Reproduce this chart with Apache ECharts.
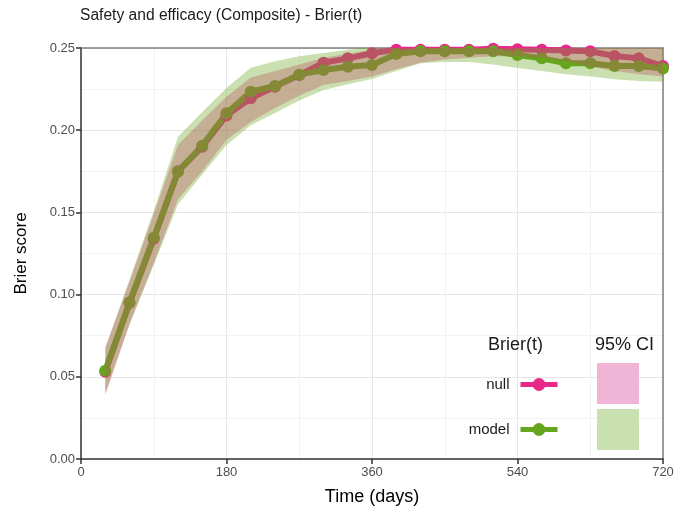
<!DOCTYPE html>
<html><head><meta charset="utf-8">
<script src="https://cdn.jsdelivr.net/npm/echarts@6/dist/echarts.min.js"></script>
<style>html,body{margin:0;padding:0;background:#fff}#c{width:696px;height:515px}</style>
</head><body><div id="c"></div>
<script>
const days = [30,60,90,120,150,180,210,240,270,300,330,360,390,420,450,480,510,540,570,600,630,660,690,720];
const nullBrier  = [0.053,0.095,0.134,0.175,0.190,0.209,0.2194,0.2265,0.2335,0.241,0.2437,0.2468,0.249,0.249,0.249,0.249,0.2495,0.2493,0.249,0.2485,0.248,0.2451,0.2437,0.239];
const modelBrier = [0.0537,0.0951,0.1346,0.1747,0.1906,0.2103,0.2234,0.2269,0.2338,0.2366,0.2386,0.2397,0.2464,0.248,0.248,0.248,0.248,0.2457,0.2437,0.2407,0.2407,0.239,0.239,0.2375];
const nullLo  = [0.039,0.082,0.119,0.158,0.175,0.194,0.205,0.2135,0.221,0.2275,0.230,0.2326,0.237,0.241,0.243,0.244,0.245,0.245,0.244,0.242,0.2386,0.236,0.234,0.2326];
const nullHi  = [0.068,0.108,0.149,0.191,0.206,0.2204,0.232,0.236,0.240,0.244,0.2465,0.249,0.252,0.253,0.254,0.254,0.254,0.254,0.254,0.254,0.254,0.253,0.252,0.251];
const modelLo = [0.040,0.082,0.118,0.155,0.173,0.191,0.203,0.2105,0.218,0.2245,0.228,0.2311,0.236,0.2407,0.2415,0.2415,0.240,0.2378,0.236,0.234,0.2326,0.231,0.230,0.2295];
const modelHi = [0.067,0.109,0.151,0.196,0.211,0.2257,0.238,0.242,0.245,0.247,0.249,0.251,0.255,0.256,0.256,0.256,0.256,0.256,0.255,0.254,0.254,0.253,0.2525,0.252];
const xTicks = [0,180,360,540,720];
const yTicks = [0,0.05,0.10,0.15,0.20,0.25];

const PINK = '#E7298A', GREEN = '#66A61E';
const FONT = 'Liberation Sans, Arial, sans-serif';
const pair = (ys) => days.map((d,i)=>[d, ys[i]]);

function lineSeries(name, vals, color){
  return {name, type:'line', data: pair(vals), symbol:'circle', symbolSize:12,
    itemStyle:{color}, lineStyle:{color, width:6}, z:2, clip:true};
}
function bandSeries(lo, hi, color){
  return {type:'custom', data: days.map((d,i)=>[d, lo[i], hi[i]]), encode:{x:0, y:[1,2]},
    z:3, silent:true, clip:true,
    renderItem:(params, api) => {
      if (params.dataIndex !== 0) return null;
      const pts = [];
      for (let i = 0; i < days.length; i++) pts.push(api.coord([days[i], hi[i]]));
      for (let i = days.length - 1; i >= 0; i--) pts.push(api.coord([days[i], lo[i]]));
      const cs = params.coordSys;
      return {type:'polygon', shape:{points:pts}, style:{fill:color, opacity:0.35},
        clipPath:{type:'rect', shape:{x:cs.x, y:cs.y, width:cs.width, height:cs.height}}};
    }};
}

const chart = echarts.init(document.getElementById('c'));
const axisLabelStyle = {color:'#4D4D4D', fontSize:13, fontFamily:FONT};
const legendCommon = {right:136, padding:0, itemWidth:37, itemHeight:16, align:'right', selectedMode:false,
  lineStyle:{width:5}, textStyle:{fontSize:15, color:'#1a1a1a', fontFamily:FONT, padding:[0,6,0,0]}};
chart.setOption({
  animation:false,
  title:{text:'Safety and efficacy (Composite) - Brier(t)', left:75, top:3,
    textStyle:{fontSize:15.6, fontWeight:'normal', color:'#1a1a1a', fontFamily:FONT}},
  grid:{left:81, right:33, top:48, bottom:56},
  xAxis:[{type:'value', min:0, max:720, interval:180, name:'Time (days)', nameLocation:'middle', nameGap:29,
    nameTextStyle:{fontSize:18, color:'#000', fontFamily:FONT},
    axisLine:{show:true, onZero:false, lineStyle:{color:'#333', width:1.5}},
    axisTick:{show:true, length:5, lineStyle:{color:'#333', width:1.5}},
    axisLabel:Object.assign({margin:7, formatter:(v)=>xTicks.includes(v)?String(v):''}, axisLabelStyle),
    splitLine:{show:true, lineStyle:{color:'#E6E6E6', width:1}},
    minorTick:{show:false, splitNumber:2},
    minorSplitLine:{show:true, lineStyle:{color:'#F2F2F2', width:1}}},
    {type:'value', position:'top', min:0, max:720, axisLine:{show:true, onZero:false, lineStyle:{color:'#7f7f7f', width:1.5}},
      axisTick:{show:false}, axisLabel:{show:false}, splitLine:{show:false}}],
  yAxis:[{type:'value', min:0, max:0.25, interval:0.05, name:'Brier score', nameLocation:'middle', nameGap:51,
    nameTextStyle:{fontSize:17, color:'#000', fontFamily:FONT},
    axisLine:{show:true, onZero:false, lineStyle:{color:'#333', width:1.5}},
    axisTick:{show:true, length:5, lineStyle:{color:'#333', width:1.5}},
    axisLabel:Object.assign({margin:6, formatter:(v)=>yTicks.some(t=>Math.abs(t-v)<1e-9)?v.toFixed(2):''}, axisLabelStyle),
    splitLine:{show:true, lineStyle:{color:'#E6E6E6', width:1}},
    minorTick:{show:false, splitNumber:2},
    minorSplitLine:{show:true, lineStyle:{color:'#F2F2F2', width:1}}},
    {type:'value', position:'right', min:0, max:0.25, axisLine:{show:true, onZero:false, lineStyle:{color:'#7f7f7f', width:1.5}},
      axisTick:{show:false}, axisLabel:{show:false}, splitLine:{show:false}}],
  legend:[
    Object.assign({data:['null'], top:377}, legendCommon),
    Object.assign({data:['model'], top:422}, legendCommon)
  ],
  graphic:[
    {type:'text', left:488, top:336, style:{text:'Brier(t)', fontSize:18, fill:'#1a1a1a', fontFamily:FONT}, z:100},
    {type:'text', left:595, top:336, style:{text:'95% CI', fontSize:18, fill:'#1a1a1a', fontFamily:FONT}, z:100},
    {type:'rect', left:597, top:363, shape:{width:42, height:41}, style:{fill:'#EFB4D6'}, z:100},
    {type:'rect', left:597, top:409, shape:{width:42, height:41}, style:{fill:'#C9E0B0'}, z:100}
  ],
  series:[
    lineSeries('null', nullBrier, PINK),
    lineSeries('model', modelBrier, GREEN),
    bandSeries(nullLo, nullHi, PINK),
    bandSeries(modelLo, modelHi, GREEN)
  ]
});
</script></body></html>
